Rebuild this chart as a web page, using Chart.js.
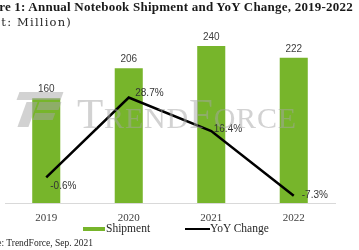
<!DOCTYPE html>
<html>
<head>
<meta charset="utf-8">
<script src="https://cdn.jsdelivr.net/npm/chart.js@4/dist/chart.umd.min.js"></script>
<style>
  html, body { margin: 0; padding: 0; background: #fff; }
  body { width: 359px; height: 250px; position: relative; overflow: hidden; font-family: "Liberation Serif", "DejaVu Serif", serif; color: #262626; }
  #wrap { position: absolute; left: 0; top: 0; width: 359px; height: 250px; }
  .rtxt { position: absolute; white-space: nowrap; text-align: right; }
  #title { right: 6px; top: -1px; font-size: 13px; line-height: 15px; font-weight: bold; color: #1a1a1a; letter-spacing: 0.22px; }
  #unit { right: 287px; top: 14.5px; font-family: "DejaVu Serif", serif; font-size: 11.5px; line-height: 14px; letter-spacing: 1.2px; color: #262626; }
  #source { right: 266px; top: 236.5px; font-size: 9.5px; line-height: 12px; color: #262626; }
  #wm { position: absolute; left: 77px; top: 92px; font-size: 43px; line-height: 43px; letter-spacing: 0.8px; font-variant: small-caps; color: rgba(165,165,165,0.5); white-space: nowrap; pointer-events: none; }
  .logo { position: absolute; background: rgba(165,165,165,0.5); pointer-events: none; }
  #legend { position: absolute; left: 0; top: 221px; width: 359px; height: 15px; font-size: 11.5px; color: #262626; }
  .lg { position: absolute; top: 0; line-height: 15px; white-space: nowrap; }
</style>
</head>
<body>
<div id="wrap"><canvas id="c" width="359" height="250"></canvas></div>
<div id="title" class="rtxt">Figure 1: Annual Notebook Shipment and YoY Change, 2019-2022</div>
<div id="unit" class="rtxt">(Unit: Million)</div>
<div id="wm">TrendForce</div>
<div class="logo" style="left:18px;top:92px;width:44px;height:8px;transform:skewX(-20deg);"></div>
<div class="logo" style="left:22px;top:102px;width:11px;height:25px;transform:skewX(-20deg);"></div>
<div class="logo" style="left:38px;top:102px;width:22px;height:8px;transform:skewX(-20deg);"></div>
<div class="logo" style="left:34px;top:113px;width:20px;height:7px;transform:skewX(-20deg);"></div>
<div id="legend">
  <div class="lg" style="left:83px;top:6px;width:22px;height:4px;background:#77b52b;"></div>
  <div class="lg" style="left:106px;">Shipment</div>
  <div class="lg" style="left:185px;top:7px;width:25px;height:2px;background:#000;"></div>
  <div class="lg" style="left:210px;">YoY Change</div>
</div>
<div id="source" class="rtxt">Source: TrendForce, Sep. 2021</div>
<script>
const categories = ['2019', '2020', '2021', '2022'];
const shipment = [160, 206, 240, 222];
const yoyChange = [-0.6, 28.7, 16.4, -7.3];
const yoyLabelPlace = ['below', 'above', 'right', 'farRight'];

const labelOffsets = { below: [4, 8.5], above: [6.5, -4.5], right: [2.5, -1.5], farRight: [8, -0.5] };

const valueLabels = {
  id: 'valueLabels',
  afterDatasetsDraw(chart) {
    const ctx = chart.ctx;
    ctx.save();
    ctx.font = '10px "Liberation Sans", Arial, sans-serif';
    ctx.fillStyle = '#404040';
    ctx.textAlign = 'center';
    ctx.textBaseline = 'alphabetic';
    chart.getDatasetMeta(0).data.forEach((el, i) => {
      ctx.fillText(String(shipment[i]), el.x, el.y - 6);
    });
    ctx.textAlign = 'left';
    ctx.textBaseline = 'middle';
    ctx.fillStyle = '#333333';
    chart.getDatasetMeta(1).data.forEach((el, i) => {
      const off = labelOffsets[yoyLabelPlace[i]];
      ctx.fillText(yoyChange[i].toFixed(1) + '%', el.x + off[0], el.y + off[1]);
    });
    ctx.restore();
  }
};

new Chart(document.getElementById('c'), {
  data: {
    labels: categories,
    datasets: [
      {
        type: 'bar',
        label: 'Shipment',
        data: shipment,
        backgroundColor: '#77b52b',
        yAxisID: 'y',
        categoryPercentage: 0.34,
        barPercentage: 1,
        order: 2
      },
      {
        type: 'line',
        label: 'YoY Change',
        data: yoyChange,
        borderColor: '#000000',
        borderWidth: 2.5,
        pointRadius: 0,
        tension: 0,
        yAxisID: 'y2',
        order: 1
      }
    ]
  },
  options: {
    responsive: false,
    animation: false,
    devicePixelRatio: 1,
    layout: { padding: { top: 39.5, left: 5, right: 24, bottom: 15.8 } },
    plugins: { legend: { display: false }, title: { display: false }, tooltip: { enabled: false } },
    scales: {
      x: {
        grid: { display: false, drawTicks: false },
        border: { display: true, color: '#d9d9d9', width: 1 },
        ticks: { padding: 9, color: '#404040', font: { family: '"Liberation Serif", serif', size: 11 } }
      },
      y: { display: false, min: 0, max: 250 },
      y2: { display: false, min: -10, max: 50 }
    }
  },
  plugins: [valueLabels]
});
</script>
</body>
</html>
